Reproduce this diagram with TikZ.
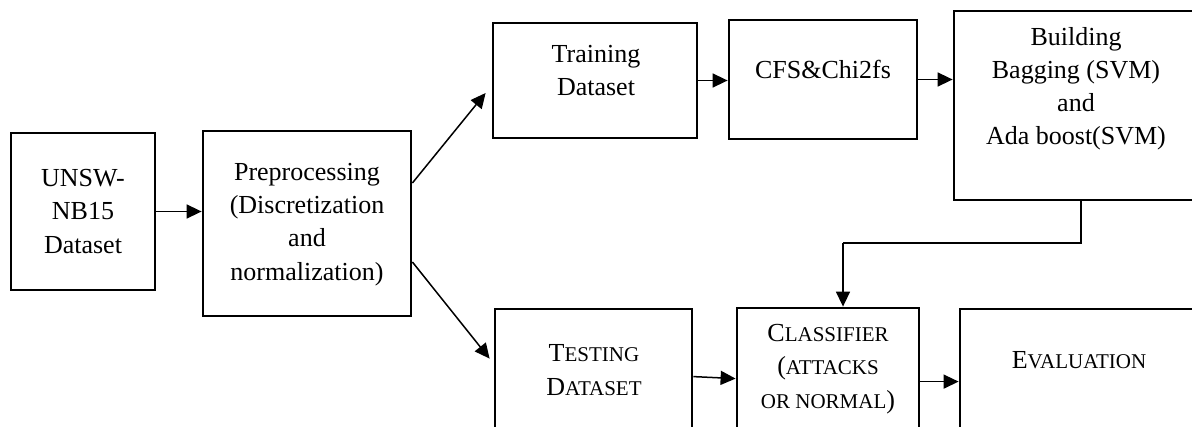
\documentclass[tikz,border=0pt]{standalone}
\usepackage{fontspec}
\setmainfont{Liberation Serif}
\usetikzlibrary{arrows.meta,fit}

% Word-style small capitals: first letter full size, the rest reduced
\newcommand\smallpart{\fontsize{10.5}{16.6}\selectfont}
\newcommand\capsm[2]{#1{\smallpart #2}}

\tikzset{
  box/.style={draw=black, line width=1.4pt, inner sep=0pt, fill=none},
  txt/.style={align=center, inner sep=0pt, font=\fontsize{13}{16.6}\selectfont},
  arr/.style={draw=black, line width=0.75pt, -{Triangle[length=7.5pt,width=7pt]}},
  link/.style={draw=black, line width=0.75pt},
}

\begin{document}
\begin{tikzpicture}[x=0.5pt,y=-0.5pt]
  \useasboundingbox (0,0) rectangle (1192,427);
  \clip (0,0) rectangle (1192,427);
  \fill[white] (0,0) rectangle (1192,427);

  % process boxes (those on the right and bottom run past the frame)
  \node[box, fit={(11,133) (155,290)}] (unsw) {};
  \node[box, fit={(203,131) (411,316)}] (prep) {};
  \node[box, fit={(493,23) (697,138)}] (train) {};
  \node[box, fit={(729,20) (917,139)}] (cfs) {};
  \node[box, fit={(954,11) (1215,200)}] (build) {};
  \node[box, fit={(495,309) (692,445)}] (test) {};
  \node[box, fit={(737,308) (919,445)}] (cls) {};
  \node[box, fit={(960,309) (1215,445)}] (eval) {};

  % box captions
  \node[txt, anchor=base] (unsw-t) at (83,253) {UNSW-\\NB15\\Dataset};
  \node[txt, anchor=base] (prep-t) at (307,280) {Preprocessing\\(Discretization\\and\\normalization)};
  \node[txt, anchor=base] (train-t) at (596,96) {Training\\Dataset};
  \node[txt, anchor=base] (cfs-t) at (823,79) {CFS\&Chi2fs};
  \node[txt, anchor=base] (build-t) at (1076,145) {Building\\Bagging (SVM)\\and\\Ada boost(SVM)};
  \node[txt, anchor=base] (test-t) at (594,395) {\capsm{T}{ESTING}\\\capsm{D}{ATASET}};
  \node[txt, anchor=base] (cls-t) at (828,408) {\capsm{C}{LASSIFIER}\\({\smallpart ATTACKS}\\{\smallpart OR NORMAL})};
  \node[txt, anchor=base] (eval-t) at (1079,368) {\capsm{E}{VALUATION}};

  % connectors
  \draw[arr] (unsw.east) -- (unsw.east -| prep.west);
  \draw[arr] ([yshift=20.25pt]prep.east) -- ([xshift=-3pt,yshift=-6.25pt]train.west);
  \draw[arr] ([yshift=-19.25pt]prep.east) -- ([xshift=-2pt,yshift=-25.5pt]test.north west);
  \draw[arr] (train.east) -- (train.east -| cfs.west);
  \draw[arr] (cfs.east) -- (cfs.east -| build.west);
  \coordinate (bend) at (1081,243);
  \coordinate (drop) at ([xshift=7.5pt]cls.north);
  \draw[link] (bend |- build.south) -- (bend) -- (bend -| drop);
  \draw[arr] (bend -| drop) -- (drop);
  \draw[arr] ([yshift=-34.5pt]test.north east) -- ([yshift=-36pt]cls.north west);
  \draw[arr] ([yshift=-37.5pt]cls.north east) -- ([yshift=-37.5pt]cls.north east -| eval.west);
\end{tikzpicture}
\end{document}
